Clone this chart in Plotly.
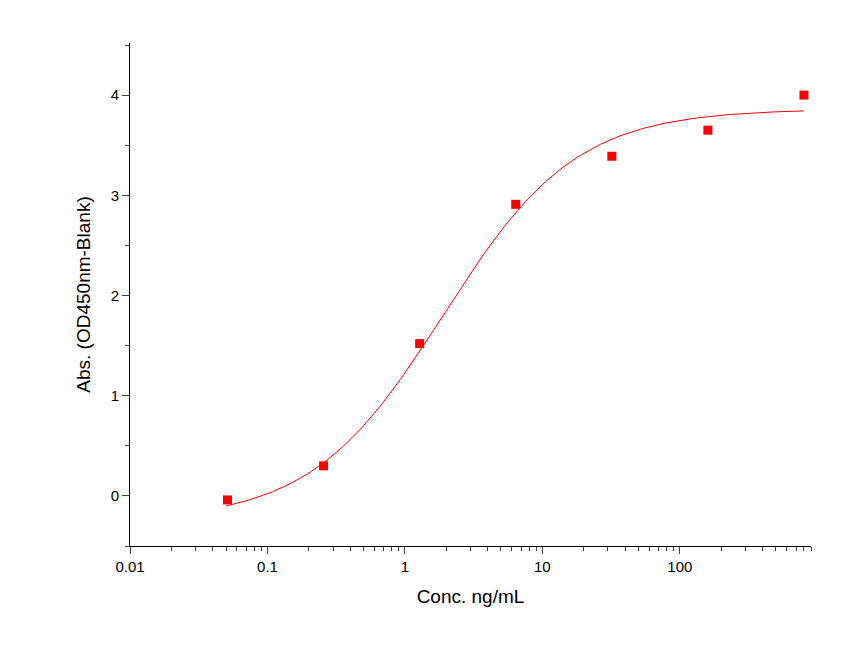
import numpy as np
import plotly.graph_objects as go

conc = [0.0512, 0.256, 1.28, 6.4, 32, 160, 800]
od = [-0.04, 0.30, 1.52, 2.91, 3.39, 3.65, 4.0]
# 4-parameter logistic fit parameters
bottom, top, ec50, hill = -0.25, 3.86, 1.9, 0.9

xc = np.logspace(np.log10(0.05), np.log10(800), 200)
yc = bottom + (top - bottom) / (1 + (ec50 / xc) ** hill)

fig = go.Figure()
fig.add_trace(go.Scatter(x=xc, y=yc, mode="lines", line=dict(color="red", width=1)))
fig.add_trace(go.Scatter(x=conc, y=od, mode="markers",
                         marker=dict(symbol="square", size=9, color="red")))
fig.update_layout(
    width=849, height=649, showlegend=False,
    paper_bgcolor="white", plot_bgcolor="white",
    margin=dict(l=122, r=46, t=35, b=111),
    font=dict(family="Liberation Sans, Arial", size=15, color="black"),
)
fig.update_xaxes(type="log", range=[-2, np.log10(900)], showgrid=False, zeroline=False,
                 showline=True, linecolor="black", ticks="outside", ticklen=7,
                 tickvals=[0.01, 0.1, 1, 10, 100], ticktext=["0.01", "0.1", "1", "10", "100"],
                 minor=dict(ticks="outside", ticklen=4, dtick="D1"),
                 title=dict(text="Conc. ng/mL", font=dict(size=19)))
fig.update_yaxes(range=[-0.5, 4.52], showgrid=False, zeroline=False,
                 showline=True, linecolor="black", ticks="outside", ticklen=7,
                 dtick=1, minor=dict(ticks="outside", ticklen=4, dtick=0.5),
                 title=dict(text="Abs. (OD450nm-Blank)", font=dict(size=19)))
fig.write_html("out.html")
